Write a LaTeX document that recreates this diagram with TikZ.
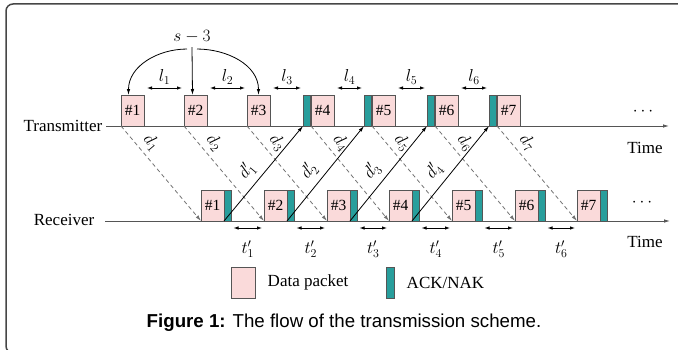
\documentclass[tikz,border=0pt]{standalone}
\usepackage{fontspec}
\setmainfont{Liberation Serif}
\setsansfont{Liberation Sans}
\usetikzlibrary{arrows.meta}
\definecolor{pinkfill}{RGB}{250,218,218}
\definecolor{ackteal}{RGB}{40,158,156}
\definecolor{boxgray}{RGB}{85,85,85}
\definecolor{framegray}{RGB}{70,70,70}

\begin{document}
\begin{tikzpicture}
      [x=1pt, y=1pt, line width=.8pt, font=\fontsize{17}{19}\selectfont,
       tip/.style={-{Latex[length=6pt,width=3.5pt]}},
       twotip/.style={{Latex[length=5pt,width=3.5pt]}-{Latex[length=5pt,width=3.5pt]}},
       packet/.style={draw=boxgray, fill=pinkfill, minimum width=23pt, minimum height=31pt,
         inner sep=0pt, outer sep=0pt, font=\fontsize{15.5}{16}\selectfont},
       ack/.style={draw=boxgray, fill=ackteal, minimum width=7.5pt, minimum height=31pt,
         inner sep=0pt, outer sep=0pt},
       dashline/.style={draw=black!55, dash pattern=on 4pt off 3pt}]
      \useasboundingbox (0,0) rectangle (678,349);
      \clip (0,0) rectangle (678,349);
      \draw[framegray, line width=1.5pt, rounded corners=7pt] (6,345) rectangle (700,-4);
      \node[anchor=east] (tx) at (106,223) {Transmitter};
      \node[anchor=east] (rx) at (98,129) {Receiver};
      \coordinate (txend) at (669,223);
      \coordinate (rxend) at (670,128);
      \draw[boxgray, tip] (tx.east) -- (txend);
      \draw[boxgray, tip] ([xshift=7pt]rx.east |- rxend) -- (rxend);
      \foreach \i/\x in {1/121,2/184,3/247,4/311,5/372,6/435,7/497}
        \node[packet, anchor=south west] (tp\i) at (\x,223) {\#\i};
      \foreach \i/\x in {4/303,5/364,6/427,7/489}
        \node[ack, anchor=south west] (ta\i) at (\x,223) {};
      \foreach \i/\x in {1/201,2/264,3/327,4/389,5/452,6/515,7/577} {
        \node[packet, anchor=south west] (rp\i) at (\x,128) {\#\i};
        \node[ack, anchor=south west] (ra\i) at (rp\i.south east) {};
      }
      \foreach \i in {1,...,7}
        \draw[dashline, tip] (tp\i.south west) -- node[sloped, above=1.5pt, pos=.26] {$d_\i$} (rp\i.south west);
      \foreach \i/\j in {1/4,2/5,3/6,4/7}
        \draw[tip] (ra\i.south west) -- node[sloped, above=2pt, pos=.43] {$d'_\i$} (ta\j.south west);
      \foreach \i/\nxt in {1/tp2,2/tp3,3/ta4,4/ta5,5/ta6,6/ta7}
        \draw[twotip] ([shift={(3pt,7pt)}]tp\i.north east) -- node[above] {$l_\i$} ([shift={(-2pt,7pt)}]\nxt.north west);
      \foreach \i/\j in {1/2,2/3,3/4,4/5,5/6,6/7}
        \draw[twotip] ([shift={(2pt,-7pt)}]ra\i.south east) -- node[below=9pt] {$t'_\i$} ([shift={(-2pt,-7pt)}]rp\j.south west);
      \node (win) at (192,312) {$s-3$};
      \draw[tip] ([shift={(-5pt,-2pt)}]win.south) to[out=180, in=90] ([xshift=-4pt]tp1.north);
      \draw[tip] (win.south) -- ([xshift=-3pt]tp2.north);
      \draw[tip] ([shift={(5pt,-2pt)}]win.south) to[out=0, in=90] (tp3.north);
      \node (ttime) at (645,201) {Time};
      \node (rtime) at (645,107) {Time};
      \node (tdots) at (643,237) {$\cdots$};
      \node (rdots) at (642,146) {$\cdots$};
      \node[packet, minimum width=24pt] (lgdata) at (243,66.5) {};
      \node[anchor=west] (lgdatatxt) at (264,66.5) {Data packet};
      \node[ack] (lgack) at (390.5,66.5) {};
      \node[anchor=west] (lgacktxt) at (403,66.5) {ACK/NAK};
      \node[font=\sffamily\fontsize{18.7}{21}\selectfont] (caption) at (344,26)
        {\textbf{Figure 1:} The flow of the transmission scheme.};
      \end{tikzpicture}
\end{document}
